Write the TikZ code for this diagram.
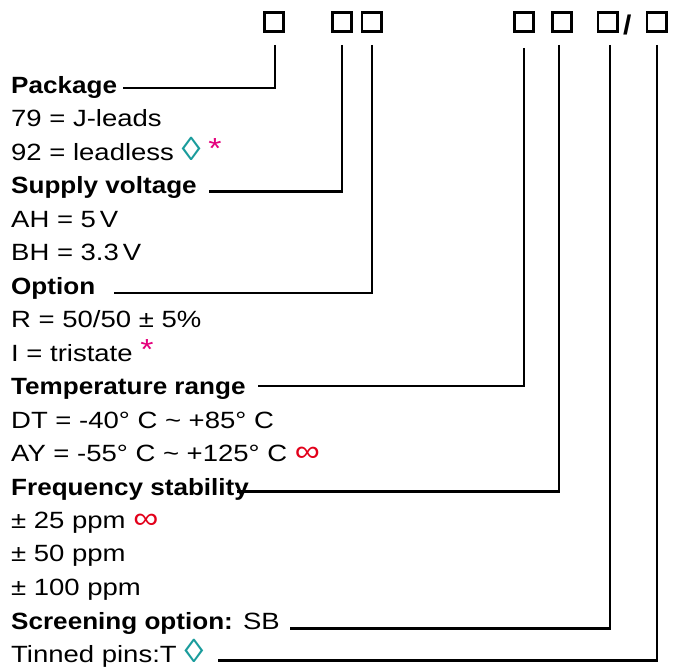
\documentclass[tikz,border=0pt]{standalone}
\usepackage{fontspec}
\setmainfont{Liberation Sans}[UprightFeatures={FakeStretch=1.17},BoldFeatures={FakeStretch=1.11}]
\definecolor{dteal}{HTML}{1A9C9C}
\definecolor{dmag}{HTML}{E4007C}
\definecolor{dred}{HTML}{E2001A}
\newcommand{\lozsym}{{\color{dteal}\fontsize{33}{28}\selectfont ◊}}
\newcommand{\astsym}{{\color{dmag}\fontsize{29}{28}\selectfont\raisebox{2pt}{*}}}
\newcommand{\infsym}{{\color{dred}\fontsize{30}{28}\selectfont ∞}}
\begin{document}
\begin{tikzpicture}[x=1pt,y=-1pt,
  box/.style={draw, line width=2.8pt, minimum size=19.2pt, inner sep=0pt},
  lbl/.style={anchor=base west, inner sep=0pt, font=\fontsize{23.5}{28}\selectfont},
  conn/.style={line width=2.6pt}]
\useasboundingbox (0,0) rectangle (677,668);
% code boxes
\node[box] (b1) at (274,22) {};
\node[box] (b2) at (342,22) {};
\node[box] (b3) at (371.5,22) {};
\node[box] (b4) at (524,22) {};
\node[box] (b5) at (562,22) {};
\node[box] (b6) at (607.5,22) {};
\node[lbl, font=\fontsize{27}{28}\selectfont\bfseries] (sl) at (623,35) {/};
\node[box] (b7) at (656.5,22) {};
% labels
\node[lbl] (t0) at (11,93.5) {\textbf{Package}};
\node[lbl] (t1) at (11,126.9) {79 = J-leads};
\node[lbl] (t2) at (11,160.4) {92 = leadless \lozsym\ \astsym};
\node[lbl] (t3) at (11,193.9) {\textbf{Supply voltage}};
\node[lbl] (t4) at (11,227.3) {AH = 5\,V};
\node[lbl] (t5) at (11,260.8) {BH = 3.3\,V};
\node[lbl] (t6) at (11,294.2) {\textbf{Option}};
\node[lbl] (t7) at (11,327.7) {R = 50/50 ± 5\%};
\node[lbl] (t8) at (11,361.1) {I = tristate \astsym};
\node[lbl] (t9) at (11,394.6) {\textbf{Temperature range}};
\node[lbl] (t10) at (11,428) {DT = -40° C \textasciitilde{} +85° C};
\node[lbl] (t11) at (11,461.5) {AY = -55° C \textasciitilde{} +125° C \infsym};
\node[lbl] (t12) at (11,495) {\textbf{Frequency stability}};
\node[lbl] (t13) at (11,528.4) {± 25 ppm \infsym};
\node[lbl] (t14) at (11,561.9) {± 50 ppm};
\node[lbl] (t15) at (11,595.3) {± 100 ppm};
\node[lbl] (t16) at (11,629.5) {\textbf{Screening option:} SB};
\node[lbl] (t17) at (11,662.2) {Tinned pins:T \lozsym};
% connector ends
\coordinate (v1) at (275,45);  \coordinate (e1) at (123,88);
\coordinate (v2) at (342,45);  \coordinate (e2) at (209,191.7);
\coordinate (v3) at (372,45);  \coordinate (e3) at (114,293);
\coordinate (v4) at (524,48);  \coordinate (e4) at (258,386);
\coordinate (v5) at (559,45);  \coordinate (e5) at (237,491.7);
\coordinate (v6) at (610,45);  \coordinate (e6) at (290,628.3);
\coordinate (v7) at (657,45);  \coordinate (e7) at (218,660.3);
\draw[conn] (v1) |- (e1);
\draw[conn] (v2) |- (e2);
\draw[conn] (v3) |- (e3);
\draw[conn] (v4) |- (e4);
\draw[conn] (v5) |- (e5);
\draw[conn] (v6) |- (e6);
\draw[conn] (v7) |- (e7);
\end{tikzpicture}
\end{document}
